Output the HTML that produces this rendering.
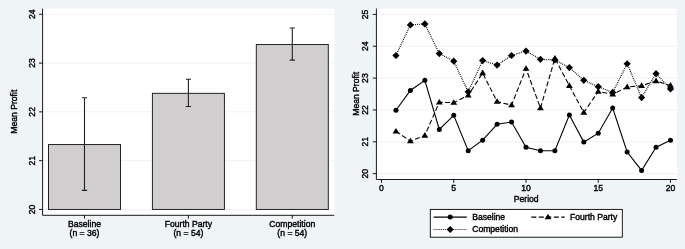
<!DOCTYPE html>
<html><head><meta charset="utf-8"><title>Mean Profit</title>
<style>html,body{margin:0;padding:0;background:#EFF5F6;}svg{display:block;}text{font-family:"Liberation Sans",Arial,Helvetica,sans-serif;font-size:8.6px;fill:#000;stroke:#000;stroke-width:0.4px;}</style>
</head><body>
<svg width="685" height="249" viewBox="0 0 685 249">
<defs><filter id="soft" x="0" y="0" width="685" height="249" filterUnits="userSpaceOnUse"><feGaussianBlur stdDeviation="0.3"/></filter></defs>
<rect x="0" y="0" width="685" height="249" fill="#EFF5F6"/>
<g filter="url(#soft)">
<rect x="0" y="0" width="685" height="249" fill="#EFF5F6"/>
<rect x="42.6" y="8.6" width="291.7" height="206.70000000000002" fill="#fff"/>
<line x1="42.6" x2="334.3" y1="209.45" y2="209.45" stroke="#EDF4F5" stroke-width="1"/>
<line x1="42.6" x2="334.3" y1="160.66" y2="160.66" stroke="#EDF4F5" stroke-width="1"/>
<line x1="42.6" x2="334.3" y1="111.87" y2="111.87" stroke="#EDF4F5" stroke-width="1"/>
<line x1="42.6" x2="334.3" y1="63.08" y2="63.08" stroke="#EDF4F5" stroke-width="1"/>
<line x1="42.6" x2="334.3" y1="14.29" y2="14.29" stroke="#EDF4F5" stroke-width="1"/>
<rect x="48.50" y="144.56" width="72" height="64.89" fill="#D0CECF" stroke="#1a1a1a" stroke-width="0.95"/>
<rect x="152.40" y="93.33" width="72" height="116.12" fill="#D0CECF" stroke="#1a1a1a" stroke-width="0.95"/>
<rect x="256.30" y="44.54" width="72" height="164.91" fill="#D0CECF" stroke="#1a1a1a" stroke-width="0.95"/>
<path d="M84.50 97.72V190.42M81.90 97.72h5.2M81.90 190.42h5.2" stroke="#222" stroke-width="1.1" fill="none"/>
<path d="M188.40 79.18V106.50M185.80 79.18h5.2M185.80 106.50h5.2" stroke="#222" stroke-width="1.1" fill="none"/>
<path d="M292.30 27.95V60.15M289.70 27.95h5.2M289.70 60.15h5.2" stroke="#222" stroke-width="1.1" fill="none"/>
<path d="M42.6 8.6V215.3M42.6 215.3H334.3" stroke="#000" stroke-width="0.9" fill="none"/>
<line x1="39.0" x2="42.6" y1="209.45" y2="209.45" stroke="#000" stroke-width="0.9"/>
<text transform="translate(34.70 209.45) rotate(-90)" text-anchor="middle">20</text>
<line x1="39.0" x2="42.6" y1="160.66" y2="160.66" stroke="#000" stroke-width="0.9"/>
<text transform="translate(34.70 160.66) rotate(-90)" text-anchor="middle">21</text>
<line x1="39.0" x2="42.6" y1="111.87" y2="111.87" stroke="#000" stroke-width="0.9"/>
<text transform="translate(34.70 111.87) rotate(-90)" text-anchor="middle">22</text>
<line x1="39.0" x2="42.6" y1="63.08" y2="63.08" stroke="#000" stroke-width="0.9"/>
<text transform="translate(34.70 63.08) rotate(-90)" text-anchor="middle">23</text>
<line x1="39.0" x2="42.6" y1="14.29" y2="14.29" stroke="#000" stroke-width="0.9"/>
<text transform="translate(34.70 14.29) rotate(-90)" text-anchor="middle">24</text>
<text transform="translate(16.6 111.7) rotate(-90)" text-anchor="middle">Mean Profit</text>
<line x1="84.5" x2="84.5" y1="215.3" y2="218.60000000000002" stroke="#000" stroke-width="0.9"/>
<text x="84.5" y="226.5" text-anchor="middle">Baseline</text>
<text x="84.5" y="235.5" text-anchor="middle">(n = 36)</text>
<line x1="188.4" x2="188.4" y1="215.3" y2="218.60000000000002" stroke="#000" stroke-width="0.9"/>
<text x="188.4" y="226.5" text-anchor="middle">Fourth Party</text>
<text x="188.4" y="235.5" text-anchor="middle">(n = 54)</text>
<line x1="292.3" x2="292.3" y1="215.3" y2="218.60000000000002" stroke="#000" stroke-width="0.9"/>
<text x="292.3" y="226.5" text-anchor="middle">Competition</text>
<text x="292.3" y="235.5" text-anchor="middle">(n = 54)</text>
<rect x="376.4" y="8.6" width="300.5" height="170.9" fill="#fff"/>
<line x1="376.4" x2="676.9" y1="173.65" y2="173.65" stroke="#EDF4F5" stroke-width="1"/>
<line x1="376.4" x2="676.9" y1="141.80" y2="141.80" stroke="#EDF4F5" stroke-width="1"/>
<line x1="376.4" x2="676.9" y1="109.95" y2="109.95" stroke="#EDF4F5" stroke-width="1"/>
<line x1="376.4" x2="676.9" y1="78.10" y2="78.10" stroke="#EDF4F5" stroke-width="1"/>
<line x1="376.4" x2="676.9" y1="46.25" y2="46.25" stroke="#EDF4F5" stroke-width="1"/>
<line x1="376.4" x2="676.9" y1="14.40" y2="14.40" stroke="#EDF4F5" stroke-width="1"/>
<polyline points="395.95,110.27 410.40,90.52 424.85,80.33 439.30,129.38 453.75,115.36 468.20,150.72 482.65,140.21 497.10,124.28 511.55,122.05 526.00,147.21 540.45,150.72 554.90,150.72 569.35,115.05 583.80,142.12 598.25,133.20 612.70,108.04 627.15,151.99 641.60,170.46 656.05,147.21 670.50,140.21" fill="none" stroke="#000" stroke-width="1.1"/>
<polyline points="395.95,131.29 410.40,141.16 424.85,135.43 439.30,102.31 453.75,102.62 468.20,95.30 482.65,73.00 497.10,101.67 511.55,105.17 526.00,68.54 540.45,108.04 554.90,58.35 569.35,85.74 583.80,112.50 598.25,91.48 612.70,94.34 627.15,87.02 641.60,85.74 656.05,80.97 670.50,85.43" fill="none" stroke="#000" stroke-width="1.1" stroke-dasharray="5 2.5"/>
</g>
<polyline points="395.95,55.49 410.40,24.91 424.85,23.96 439.30,53.58 453.75,61.22 468.20,91.80 482.65,60.58 497.10,65.04 511.55,55.49 526.00,51.03 540.45,59.31 554.90,59.95 569.35,67.59 583.80,80.33 598.25,86.70 612.70,92.43 627.15,63.77 641.60,97.53 656.05,73.64 670.50,88.93" fill="none" stroke="#000" stroke-width="1.3" stroke-dasharray="0.85 1.08"/>
<g filter="url(#soft)">
<circle cx="395.95" cy="110.27" r="2.5" fill="#000"/>
<circle cx="410.40" cy="90.52" r="2.5" fill="#000"/>
<circle cx="424.85" cy="80.33" r="2.5" fill="#000"/>
<circle cx="439.30" cy="129.38" r="2.5" fill="#000"/>
<circle cx="453.75" cy="115.36" r="2.5" fill="#000"/>
<circle cx="468.20" cy="150.72" r="2.5" fill="#000"/>
<circle cx="482.65" cy="140.21" r="2.5" fill="#000"/>
<circle cx="497.10" cy="124.28" r="2.5" fill="#000"/>
<circle cx="511.55" cy="122.05" r="2.5" fill="#000"/>
<circle cx="526.00" cy="147.21" r="2.5" fill="#000"/>
<circle cx="540.45" cy="150.72" r="2.5" fill="#000"/>
<circle cx="554.90" cy="150.72" r="2.5" fill="#000"/>
<circle cx="569.35" cy="115.05" r="2.5" fill="#000"/>
<circle cx="583.80" cy="142.12" r="2.5" fill="#000"/>
<circle cx="598.25" cy="133.20" r="2.5" fill="#000"/>
<circle cx="612.70" cy="108.04" r="2.5" fill="#000"/>
<circle cx="627.15" cy="151.99" r="2.5" fill="#000"/>
<circle cx="641.60" cy="170.46" r="2.5" fill="#000"/>
<circle cx="656.05" cy="147.21" r="2.5" fill="#000"/>
<circle cx="670.50" cy="140.21" r="2.5" fill="#000"/>
<path d="M395.95 127.89l3.4 5.6h-6.8z" fill="#000"/>
<path d="M410.40 137.76l3.4 5.6h-6.8z" fill="#000"/>
<path d="M424.85 132.03l3.4 5.6h-6.8z" fill="#000"/>
<path d="M439.30 98.91l3.4 5.6h-6.8z" fill="#000"/>
<path d="M453.75 99.22l3.4 5.6h-6.8z" fill="#000"/>
<path d="M468.20 91.90l3.4 5.6h-6.8z" fill="#000"/>
<path d="M482.65 69.60l3.4 5.6h-6.8z" fill="#000"/>
<path d="M497.10 98.27l3.4 5.6h-6.8z" fill="#000"/>
<path d="M511.55 101.77l3.4 5.6h-6.8z" fill="#000"/>
<path d="M526.00 65.14l3.4 5.6h-6.8z" fill="#000"/>
<path d="M540.45 104.64l3.4 5.6h-6.8z" fill="#000"/>
<path d="M554.90 54.95l3.4 5.6h-6.8z" fill="#000"/>
<path d="M569.35 82.34l3.4 5.6h-6.8z" fill="#000"/>
<path d="M583.80 109.10l3.4 5.6h-6.8z" fill="#000"/>
<path d="M598.25 88.08l3.4 5.6h-6.8z" fill="#000"/>
<path d="M612.70 90.94l3.4 5.6h-6.8z" fill="#000"/>
<path d="M627.15 83.62l3.4 5.6h-6.8z" fill="#000"/>
<path d="M641.60 82.34l3.4 5.6h-6.8z" fill="#000"/>
<path d="M656.05 77.57l3.4 5.6h-6.8z" fill="#000"/>
<path d="M670.50 82.03l3.4 5.6h-6.8z" fill="#000"/>
<path d="M395.95 51.89l3.6 3.6l-3.6 3.6l-3.6 -3.6z" fill="#000"/>
<path d="M410.40 21.31l3.6 3.6l-3.6 3.6l-3.6 -3.6z" fill="#000"/>
<path d="M424.85 20.36l3.6 3.6l-3.6 3.6l-3.6 -3.6z" fill="#000"/>
<path d="M439.30 49.98l3.6 3.6l-3.6 3.6l-3.6 -3.6z" fill="#000"/>
<path d="M453.75 57.62l3.6 3.6l-3.6 3.6l-3.6 -3.6z" fill="#000"/>
<path d="M468.20 88.20l3.6 3.6l-3.6 3.6l-3.6 -3.6z" fill="#000"/>
<path d="M482.65 56.98l3.6 3.6l-3.6 3.6l-3.6 -3.6z" fill="#000"/>
<path d="M497.10 61.44l3.6 3.6l-3.6 3.6l-3.6 -3.6z" fill="#000"/>
<path d="M511.55 51.89l3.6 3.6l-3.6 3.6l-3.6 -3.6z" fill="#000"/>
<path d="M526.00 47.43l3.6 3.6l-3.6 3.6l-3.6 -3.6z" fill="#000"/>
<path d="M540.45 55.71l3.6 3.6l-3.6 3.6l-3.6 -3.6z" fill="#000"/>
<path d="M554.90 56.35l3.6 3.6l-3.6 3.6l-3.6 -3.6z" fill="#000"/>
<path d="M569.35 63.99l3.6 3.6l-3.6 3.6l-3.6 -3.6z" fill="#000"/>
<path d="M583.80 76.73l3.6 3.6l-3.6 3.6l-3.6 -3.6z" fill="#000"/>
<path d="M598.25 83.10l3.6 3.6l-3.6 3.6l-3.6 -3.6z" fill="#000"/>
<path d="M612.70 88.83l3.6 3.6l-3.6 3.6l-3.6 -3.6z" fill="#000"/>
<path d="M627.15 60.17l3.6 3.6l-3.6 3.6l-3.6 -3.6z" fill="#000"/>
<path d="M641.60 93.93l3.6 3.6l-3.6 3.6l-3.6 -3.6z" fill="#000"/>
<path d="M656.05 70.04l3.6 3.6l-3.6 3.6l-3.6 -3.6z" fill="#000"/>
<path d="M670.50 85.33l3.6 3.6l-3.6 3.6l-3.6 -3.6z" fill="#000"/>
<path d="M376.4 8.6V179.5M376.4 179.5H676.9" stroke="#000" stroke-width="0.9" fill="none"/>
<line x1="372.79999999999995" x2="376.4" y1="173.65" y2="173.65" stroke="#000" stroke-width="0.9"/>
<text transform="translate(368.40 173.65) rotate(-90)" text-anchor="middle">20</text>
<line x1="372.79999999999995" x2="376.4" y1="141.80" y2="141.80" stroke="#000" stroke-width="0.9"/>
<text transform="translate(368.40 141.80) rotate(-90)" text-anchor="middle">21</text>
<line x1="372.79999999999995" x2="376.4" y1="109.95" y2="109.95" stroke="#000" stroke-width="0.9"/>
<text transform="translate(368.40 109.95) rotate(-90)" text-anchor="middle">22</text>
<line x1="372.79999999999995" x2="376.4" y1="78.10" y2="78.10" stroke="#000" stroke-width="0.9"/>
<text transform="translate(368.40 78.10) rotate(-90)" text-anchor="middle">23</text>
<line x1="372.79999999999995" x2="376.4" y1="46.25" y2="46.25" stroke="#000" stroke-width="0.9"/>
<text transform="translate(368.40 46.25) rotate(-90)" text-anchor="middle">24</text>
<line x1="372.79999999999995" x2="376.4" y1="14.40" y2="14.40" stroke="#000" stroke-width="0.9"/>
<text transform="translate(368.40 14.40) rotate(-90)" text-anchor="middle">25</text>
<text transform="translate(359 93.8) rotate(-90)" text-anchor="middle">Mean Profit</text>
<line x1="381.50" x2="381.50" y1="179.5" y2="182.8" stroke="#000" stroke-width="0.9"/>
<text x="381.50" y="190.6" text-anchor="middle">0</text>
<line x1="453.75" x2="453.75" y1="179.5" y2="182.8" stroke="#000" stroke-width="0.9"/>
<text x="453.75" y="190.6" text-anchor="middle">5</text>
<line x1="526.00" x2="526.00" y1="179.5" y2="182.8" stroke="#000" stroke-width="0.9"/>
<text x="526.00" y="190.6" text-anchor="middle">10</text>
<line x1="598.25" x2="598.25" y1="179.5" y2="182.8" stroke="#000" stroke-width="0.9"/>
<text x="598.25" y="190.6" text-anchor="middle">15</text>
<line x1="670.50" x2="670.50" y1="179.5" y2="182.8" stroke="#000" stroke-width="0.9"/>
<text x="670.50" y="190.6" text-anchor="middle">20</text>
<text x="526.2" y="202.3" text-anchor="middle">Period</text>
<rect x="430.3" y="209.4" width="192" height="27.8" fill="#fff" stroke="#000" stroke-width="0.9"/>
<line x1="433.6" x2="466.8" y1="217.1" y2="217.1" stroke="#000" stroke-width="1.1"/><circle cx="450.20" cy="217.10" r="2.5" fill="#000"/>
<text x="472.2" y="220.2">Baseline</text>
</g>
<line x1="433.6" x2="466.8" y1="229.5" y2="229.5" stroke="#000" stroke-width="1.0" stroke-dasharray="0.85 1.08"/>
<g filter="url(#soft)">
<path d="M450.20 225.90l3.6 3.6l-3.6 3.6l-3.6 -3.6z" fill="#000"/>
<text x="472.2" y="232.2">Competition</text>
<line x1="531.3" x2="564.7" y1="217.1" y2="217.1" stroke="#000" stroke-width="1.1" stroke-dasharray="5 2.5"/><path d="M548.00 213.70l3.4 5.6h-6.8z" fill="#000"/>
<text x="570" y="220.2">Fourth Party</text>
</g>
</svg></body></html>
